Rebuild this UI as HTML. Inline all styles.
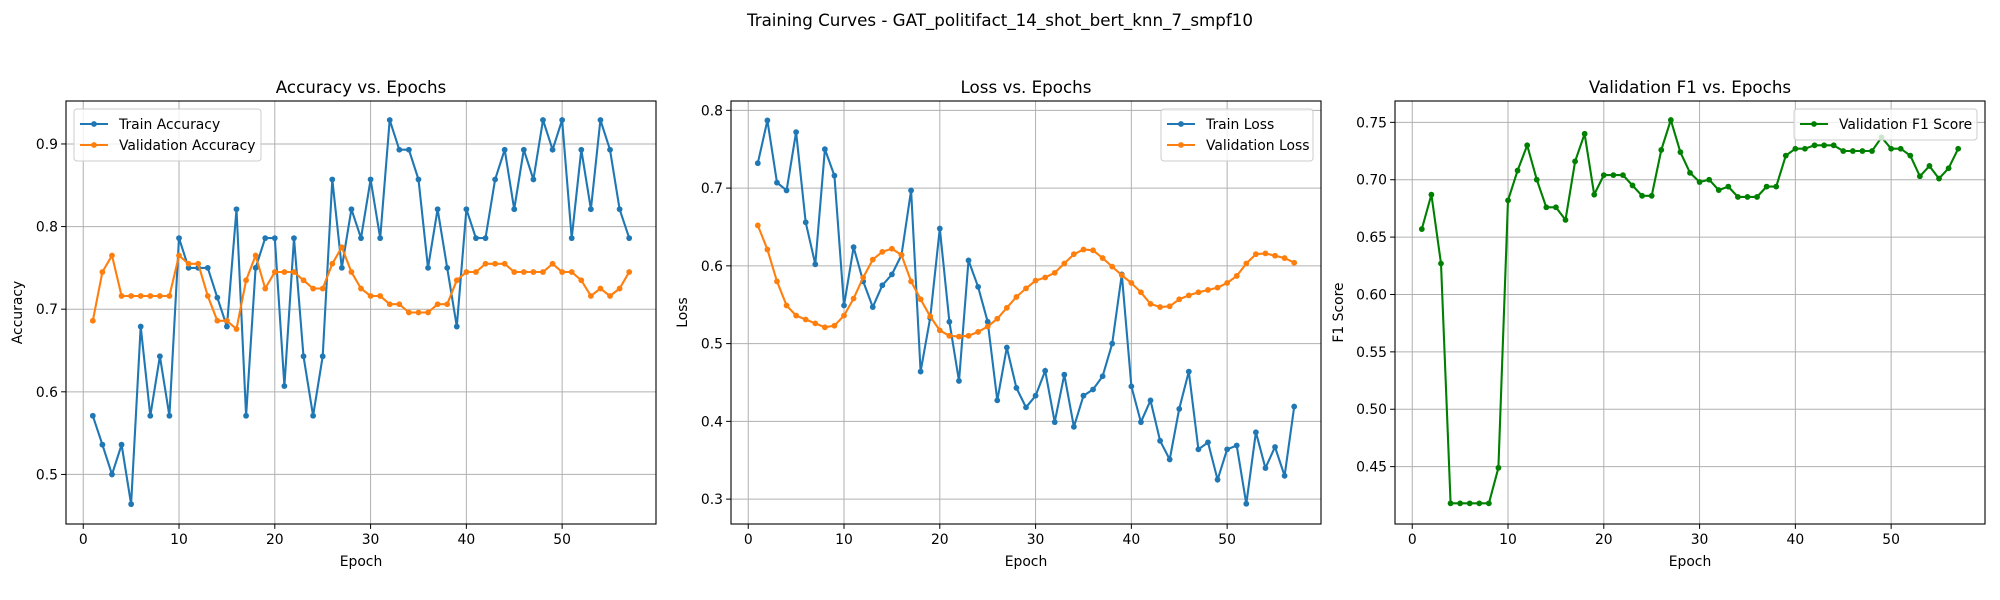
<!DOCTYPE html>
<html><head><meta charset="utf-8"><style>
body{margin:0;background:#fff;}
svg{display:block;font-family:"DejaVu Sans","Liberation Sans",sans-serif;}
</style></head><body>
<svg id="fig" width="2000" height="600" viewBox="0 0 2000 600">
<text x="1000" y="26" text-anchor="middle" font-size="16.7">Training Curves - GAT_politifact_14_shot_bert_knn_7_smpf10</text>
</svg>
<script>
const epochs = Array.from({length:57},(_,i)=>i+1);
const trainAcc=[.571,.536,.5,.536,.464,.679,.571,.643,.571,.786,.75,.75,.75,.714,.679,.821,.571,.75,.786,.786,.607,.786,.643,.571,.643,.857,.75,.821,.786,.857,.786,.929,.893,.893,.857,.75,.821,.75,.679,.821,.786,.786,.857,.893,.821,.893,.857,.929,.893,.929,.786,.893,.821,.929,.893,.821,.786];
const valAcc=[.686,.745,.765,.716,.716,.716,.716,.716,.716,.765,.755,.755,.716,.686,.686,.676,.735,.765,.725,.745,.745,.745,.735,.725,.725,.755,.775,.745,.725,.716,.716,.706,.706,.696,.696,.696,.706,.706,.735,.745,.745,.755,.755,.755,.745,.745,.745,.745,.755,.745,.745,.735,.716,.725,.716,.725,.745];
const trainLoss=[.732,.787,.707,.697,.772,.656,.602,.75,.716,.549,.624,.58,.547,.575,.589,.614,.697,.464,.533,.648,.528,.452,.607,.573,.528,.427,.495,.443,.418,.433,.465,.399,.46,.393,.433,.441,.458,.5,.589,.445,.399,.427,.375,.351,.416,.464,.364,.373,.325,.364,.369,.294,.386,.34,.367,.33,.419];
const valLoss=[.652,.621,.58,.549,.536,.531,.526,.521,.523,.536,.558,.585,.608,.618,.622,.614,.58,.557,.535,.517,.51,.509,.51,.515,.522,.532,.546,.56,.571,.581,.585,.591,.603,.615,.621,.62,.61,.599,.588,.578,.566,.551,.547,.548,.557,.562,.566,.569,.572,.578,.587,.603,.615,.616,.613,.61,.604];
const valF1=[.657,.687,.627,.418,.418,.418,.418,.418,.449,.682,.708,.730,.700,.676,.676,.665,.716,.740,.687,.704,.704,.704,.695,.686,.686,.726,.752,.724,.706,.698,.700,.691,.694,.685,.685,.685,.694,.694,.721,.727,.727,.730,.730,.730,.725,.725,.725,.725,.737,.727,.727,.721,.703,.712,.701,.710,.727];
const xTicks=[0,10,20,30,40,50];
const accTicks=[0.5,0.6,0.7,0.8,0.9];
const lossTicks=[0.3,0.4,0.5,0.6,0.7,0.8];
const f1Ticks=[0.45,0.5,0.55,0.6,0.65,0.7,0.75];

const NS='http://www.w3.org/2000/svg';
const svg=document.getElementById('fig');
function mk(tag,attrs,parent){const e=document.createElementNS(NS,tag);for(const k in attrs)e.setAttribute(k,attrs[k]);(parent||svg).appendChild(e);return e;}
const TOP=101,BOT=524,W=590;
function panel(o){
  const g=mk('g',{});
  
  
  const L=o.left,R=L+W;
  const xs=v=>L+(v-(-1.8))/(59.8-(-1.8))*W;
  const ys=v=>BOT-(v-o.ymin)/(o.ymax-o.ymin)*(BOT-TOP);
  xTicks.forEach(t=>{const x=xs(t);
    mk('line',{x1:x,x2:x,y1:TOP,y2:BOT,stroke:'#b0b0b0','stroke-width':1},g);
    mk('line',{x1:x,x2:x,y1:BOT,y2:BOT+4.9,stroke:'#000','stroke-width':1},g);
    const tx=mk('text',{x:x,y:BOT+20,'text-anchor':'middle','font-size':13.9},g);tx.textContent=t;
    
    
  });
  o.ticks.forEach(t=>{const y=ys(t);
    mk('line',{x1:L,x2:R,y1:y,y2:y,stroke:'#b0b0b0','stroke-width':1},g);
    mk('line',{x1:L-4.9,x2:L,y1:y,y2:y,stroke:'#000','stroke-width':1},g);
    const tx=mk('text',{x:L-8,y:y+5,'text-anchor':'end','font-size':13.9},g);tx.textContent=o.fmt(t);
    
    
  });
  o.series.forEach(s=>{
    const pts=s.data.map((v,i)=>xs(epochs[i]).toFixed(1)+','+ys(v).toFixed(1)).join(' ');
    const pl=mk('polyline',{points:pts,fill:'none',stroke:s.color,'stroke-width':2.1},g);
    
    
    s.data.forEach((v,i)=>mk('circle',{cx:xs(epochs[i]),cy:ys(v),r:2.9,fill:s.color},g));
  });
  mk('rect',{x:L,y:TOP,width:W,height:BOT-TOP,fill:'none',stroke:'#000','stroke-width':1.1},g);
  const ti=mk('text',{x:L+W/2,y:93,'text-anchor':'middle','font-size':16.7},g);ti.textContent=o.title;
  
  
  const xl=mk('text',{x:L+W/2,y:566,'text-anchor':'middle','font-size':13.9},g);xl.textContent='Epoch';
  
  
  const yl=mk('text',{x:0,y:0,'text-anchor':'middle','font-size':13.9,transform:`translate(${L-o.ylOff},${(TOP+BOT)/2}) rotate(-90)`},g);yl.textContent=o.ylabel;
  
  
  // legend
  const lw=o.legW,lh=o.series.length*21+10;
  const lx=o.legRight?R-8-lw:L+8,ly=TOP+8;
  const lg=mk('g',{},g);
  
  
  mk('rect',{x:lx,y:ly,width:lw,height:lh,rx:3,fill:'#fff','fill-opacity':0.8,stroke:'#ccc'},lg);
  o.series.forEach((s,i)=>{const y=ly+15+i*21;
    mk('line',{x1:lx+6,x2:lx+34,y1:y,y2:y,stroke:s.color,'stroke-width':2.1},lg);
    mk('circle',{cx:lx+20,cy:y,r:2.9,fill:s.color},lg);
    const t=mk('text',{x:lx+45,y:y+5,'font-size':13.9},lg);t.textContent=s.label;
    
    
  });
}
panel({name:'accuracy-panel',left:66,ymin:0.44,ymax:0.952,ticks:accTicks,fmt:t=>t.toFixed(1),title:'Accuracy vs. Epochs',ylabel:'Accuracy',ylOff:44,legW:187,legRight:false,
  series:[{key:'train-accuracy',label:'Train Accuracy',color:'#1f77b4',data:trainAcc},{key:'validation-accuracy',label:'Validation Accuracy',color:'#ff7f0e',data:valAcc}]});
panel({name:'loss-panel',left:731,ymin:0.268,ymax:0.812,ticks:lossTicks,fmt:t=>t.toFixed(1),title:'Loss vs. Epochs',ylabel:'Loss',ylOff:44,legW:152,legRight:true,
  series:[{key:'train-loss',label:'Train Loss',color:'#1f77b4',data:trainLoss},{key:'validation-loss',label:'Validation Loss',color:'#ff7f0e',data:valLoss}]});
panel({name:'f1-panel',left:1395,ymin:0.400,ymax:0.7686,ticks:f1Ticks,fmt:t=>t.toFixed(2),title:'Validation F1 vs. Epochs',ylabel:'F1 Score',ylOff:52,legW:183,legRight:true,
  series:[{key:'validation-f1',label:'Validation F1 Score',color:'#008000',data:valF1}]});
</script>
</body></html>
